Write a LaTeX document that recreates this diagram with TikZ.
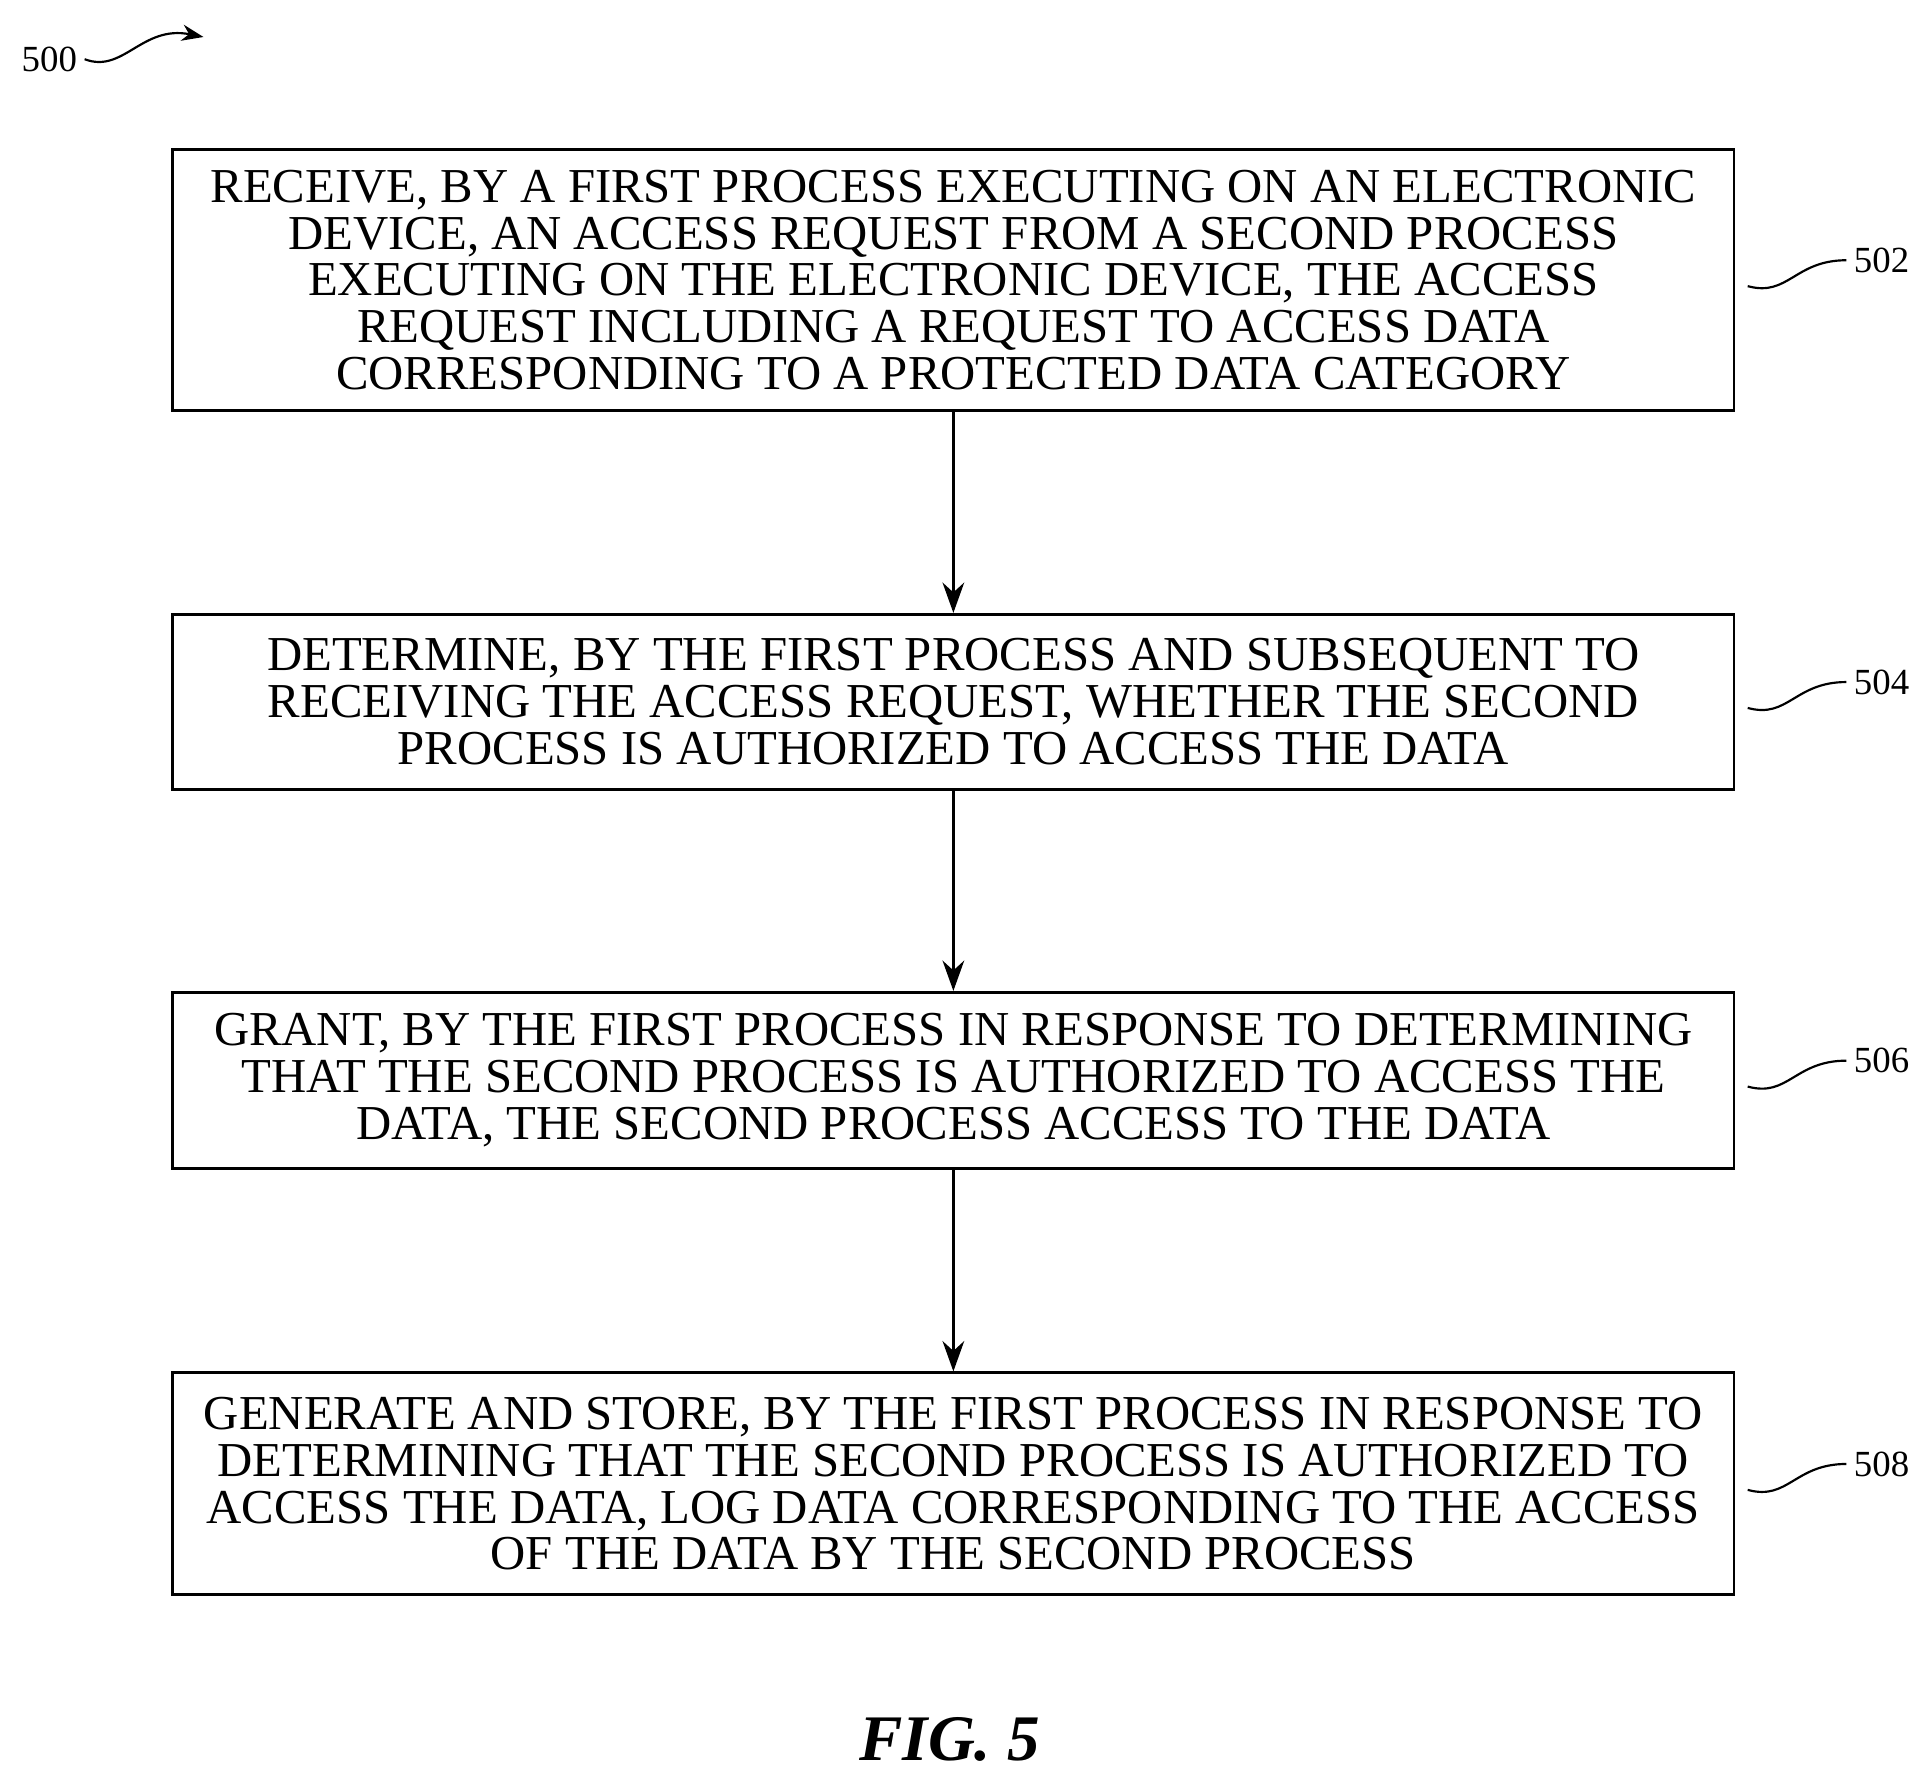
\documentclass[tikz,border=0pt]{standalone}
\usepackage{fontspec}
\setmainfont{Liberation Serif}
\usetikzlibrary{arrows.meta}
\begin{document}
\begin{tikzpicture}[x=0.02cm,y=-0.02cm,
 box/.style={draw,line width=1.2pt,align=center,inner sep=0pt,font=\fontsize{22.5}{21.6}\selectfont},
 lab/.style={font=\fontsize{17}{17}\selectfont},
 arr/.style={line width=1.2pt,-{Stealth[length=14pt,width=10pt]}}]
\useasboundingbox (0,0) rectangle (1560,1437);
\node[box,minimum width=1266*0.02cm,minimum height=212*0.02cm] (b1) at (773,227) {RECEIVE, BY A FIRST PROCESS EXECUTING ON AN ELECTRONIC\\DEVICE, AN ACCESS REQUEST FROM A SECOND PROCESS\\EXECUTING ON THE ELECTRONIC DEVICE, THE ACCESS\\REQUEST INCLUDING A REQUEST TO ACCESS DATA\\CORRESPONDING TO A PROTECTED DATA CATEGORY};
\node[box,minimum width=1266*0.02cm,minimum height=142*0.02cm] (b2) at (773,569) {DETERMINE, BY THE FIRST PROCESS AND SUBSEQUENT TO\\RECEIVING THE ACCESS REQUEST, WHETHER THE SECOND\\PROCESS IS AUTHORIZED TO ACCESS THE DATA};
\node[box,minimum width=1266*0.02cm,minimum height=143*0.02cm] (b3) at (773,876) {GRANT, BY THE FIRST PROCESS IN RESPONSE TO DETERMINING\\THAT THE SECOND PROCESS IS AUTHORIZED TO ACCESS THE\\DATA, THE SECOND PROCESS ACCESS TO THE DATA};
\node[box,minimum width=1266*0.02cm,minimum height=180*0.02cm] (b4) at (773,1203) {GENERATE AND STORE, BY THE FIRST PROCESS IN RESPONSE TO\\DETERMINING THAT THE SECOND PROCESS IS AUTHORIZED TO\\ACCESS THE DATA, LOG DATA CORRESPONDING TO THE ACCESS\\OF THE DATA BY THE SECOND PROCESS};
\draw[arr] (b1) -- (b2);
\draw[arr] (b2) -- (b3);
\draw[arr] (b3) -- (b4);
\foreach \n/\t/\y in {b1/502/211,b2/504/553,b3/506/860,b4/508/1187}{
 \node[lab,anchor=west] (l\t) at (1497,\y) {\t};
 \draw[line width=1pt] (\n.east) ++(10,5) .. controls (1450,\y+30) and (1455,\y) .. (l\t.west);
}
\node[lab] (l500) at (40,48) {500};
\coordinate (t500) at (165,30);
\draw[line width=1pt,-{Stealth[length=10pt]}] (l500.east) .. controls (100,60) and (115,20) .. (t500);
\node[font=\bfseries\itshape\fontsize{30}{30}\selectfont] (fig) at (770,1410) {FIG. 5};
\end{tikzpicture}
\end{document}
